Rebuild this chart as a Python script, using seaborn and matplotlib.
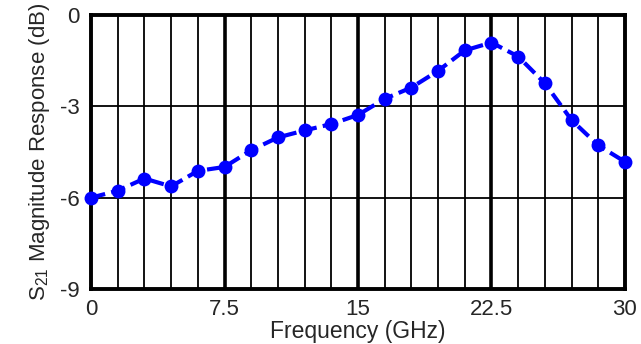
import matplotlib
matplotlib.use("Agg")
import matplotlib.pyplot as plt
import seaborn as sns
import numpy as np
import pandas as pd

freq = [0, 1.5, 3, 4.5, 6, 7.5, 9, 10.5, 12, 13.5, 15, 16.5, 18, 19.5, 21, 22.5, 24, 25.5, 27, 28.5, 30]
s21 = [-6.0, -5.77, -5.37, -5.63, -5.12, -4.99, -4.44, -4.02, -3.79, -3.58, -3.28,
       -2.75, -2.38, -1.83, -1.16, -0.90, -1.36, -2.24, -3.45, -4.28, -4.82]
xticks = [0, 7.5, 15, 22.5, 30]
xticklabels = ["0", "7.5", "15", "22.5", "30"]
yticks = [-9, -6, -3, 0]
yticklabels = ["-9", "-6", "-3", "0"]
minor_x = [1.5, 3, 4.5, 6, 9, 10.5, 12, 13.5, 16.5, 18, 19.5, 21, 24, 25.5, 27, 28.5]

sns.set_style("white")
plt.rcParams['font.family'] = ['Liberation Sans', 'DejaVu Sans']

df = pd.DataFrame({"Frequency": freq, "S21": s21})

fig = plt.figure(figsize=(6.41, 3.44), dpi=100)
ax = fig.add_axes([0.142, 0.160, 0.833, 0.796])

for xv in minor_x:
    ax.axvline(xv, color="black", lw=1.3, zorder=1)
for xv in [7.5, 15, 22.5]:
    ax.axvline(xv, color="black", lw=2.6, zorder=1)
for yv in [-3, -6]:
    ax.axhline(yv, color="black", lw=1.3, zorder=1)

sns.lineplot(data=df, x="Frequency", y="S21", ax=ax, color="#0000ff",
             linestyle=(0, (3.5, 1.5)), lw=3, marker="o", markersize=10,
             markeredgewidth=0, zorder=3, clip_on=False)

ax.set_xlim(0, 30)
ax.set_ylim(-9, 0)
ax.set_xticks(xticks)
ax.set_xticklabels(xticklabels)
ax.set_yticks(yticks)
ax.set_yticklabels(yticklabels)
ax.tick_params(axis="x", length=0, labelsize=16, pad=7)
ax.tick_params(axis="y", length=0, labelsize=16, pad=8)
for sp in ax.spines.values():
    sp.set_linewidth(2.8)
    sp.set_color("black")
ax.set_xlabel("Frequency (GHz)", fontsize=16.5, labelpad=0)
ax.set_ylabel(r"$\mathregular{S_{21}}$ Magnitude Response (dB)", fontsize=16, labelpad=6)

fig.savefig("out.png", dpi=100)
